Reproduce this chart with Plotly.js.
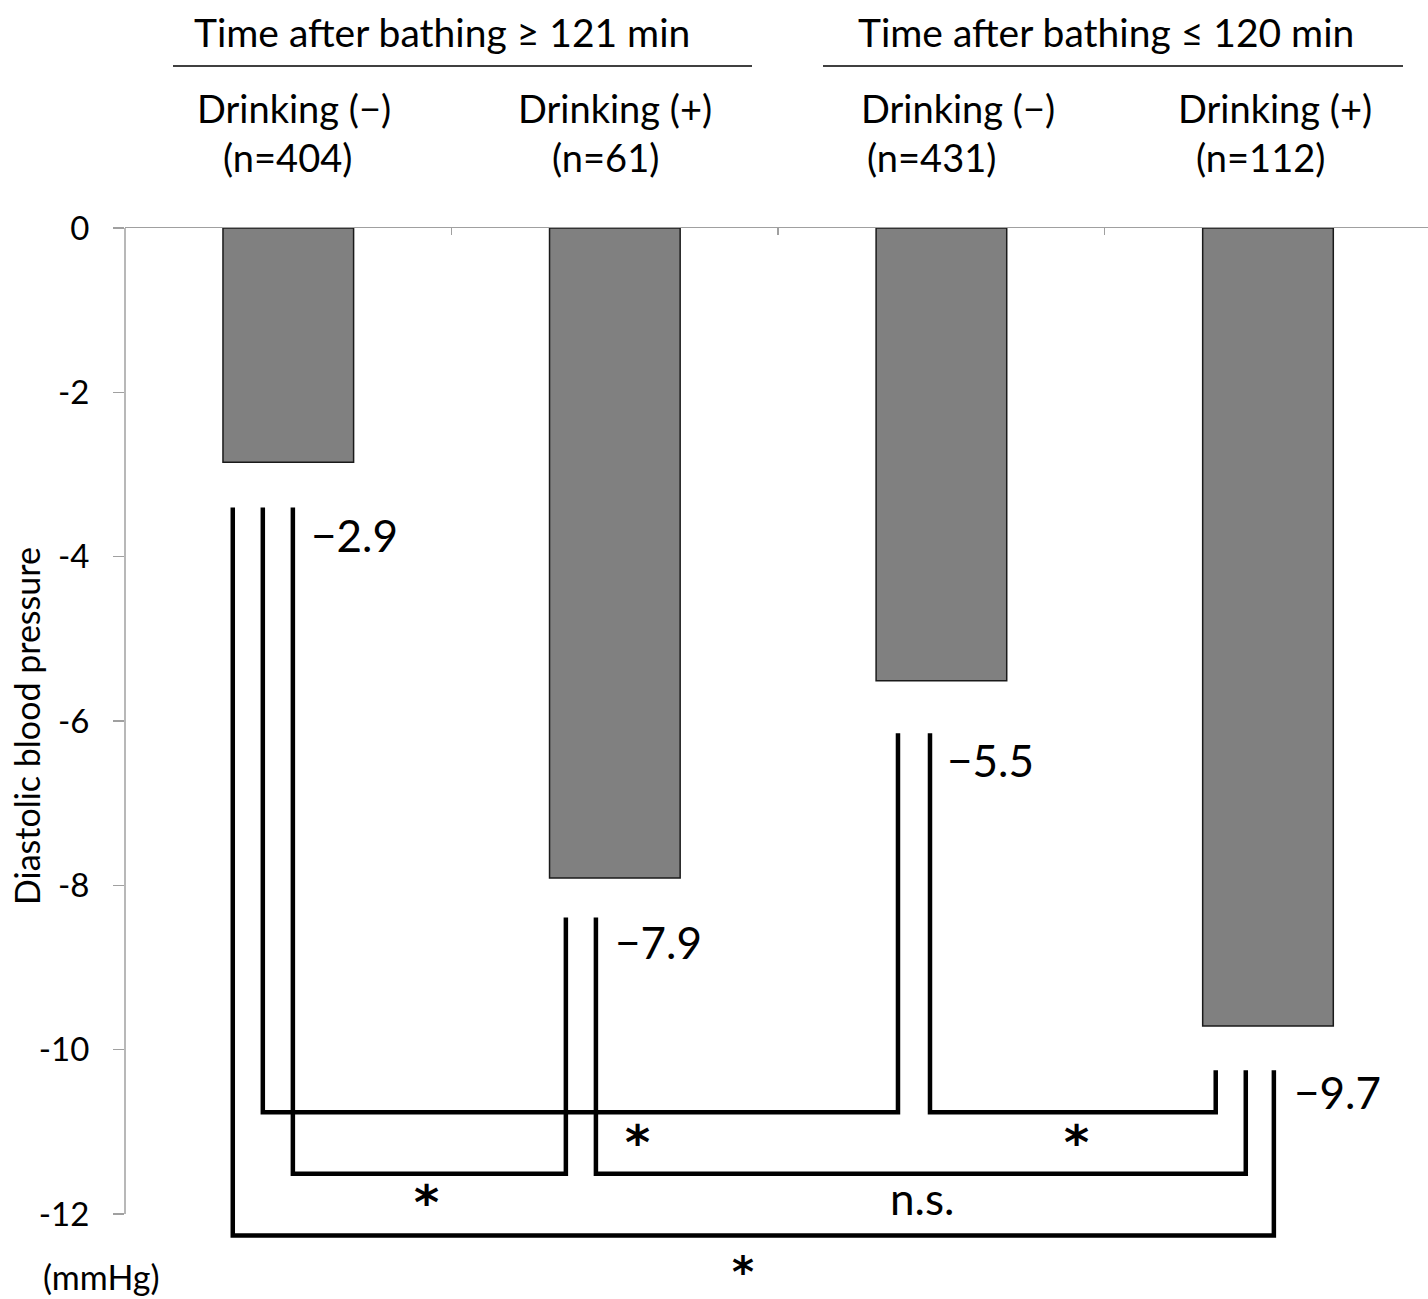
<!DOCTYPE html>
<html>
<head>
<meta charset="utf-8">
<script src="https://cdn.plot.ly/plotly-3.0.1.min.js"></script>
<style>
html,body{margin:0;padding:0;background:#fff;}
#chart{width:1428px;height:1299px;}
</style>
</head>
<body>
<div id="chart"></div>
<script>
// ---------------- data ----------------
const categories = ['≥121 min / Drinking (−)', '≥121 min / Drinking (+)', '≤120 min / Drinking (−)', '≤120 min / Drinking (+)'];
const drinkingLabels = ['Drinking (−)', 'Drinking (+)', 'Drinking (−)', 'Drinking (+)'];
const nLabels = ['(n=404)', '(n=61)', '(n=431)', '(n=112)'];
const values = [-2.85, -7.91, -5.51, -9.71];
const valueLabels = ['−2.9', '−7.9', '−5.5', '−9.7'];
const groupLabels = ['Time after bathing ≥ 121 min', 'Time after bathing ≤ 120 min'];
const yTickVals = [0, -2, -4, -6, -8, -10, -12];
const yTickText = ['0', '-2', '-4', '-6', '-8', '-10', '-12'];
const yTitle = 'Diastolic blood pressure';
const yUnit = '(mmHg)';
// comparisons: [from index, to index, significance]
const comparisons = [
  [0, 3, '*'],
  [0, 2, '*'],
  [0, 1, '*'],
  [1, 3, 'n.s.'],
  [2, 3, '*']
];

// ---------------- layout helpers ----------------
const FONT = 'Lato, "Open Sans", sans-serif';
const xIdx = categories.map((c, i) => i);
// bracket geometry (offsets from category centre, level)
const bracketGeom = [
  {dx0: -0.170, dx1: 0.018, level: -12.26, lx: 1.392, ly: -12.71, fs: 42},
  {dx0: -0.078, dx1: -0.133, level: -10.76, lx: 1.070, ly: -11.12, fs: 48},
  {dx0: 0.014, dx1: -0.150, level: -11.51, lx: 0.424, ly: -11.85, fs: 48},
  {dx0: -0.058, dx1: -0.068, level: -11.51, lx: 1.940, ly: -11.80, fs: 44},
  {dx0: -0.035, dx1: -0.160, level: -10.76, lx: 2.415, ly: -11.12, fs: 48}
];
const bracketStart = [-3.40, -8.39, -6.15, -10.25];

const shapes = [];
const annotations = [];
const LW = 4.5;
comparisons.forEach((c, k) => {
  const g = bracketGeom[k];
  const xa = xIdx[c[0]] + g.dx0, xb = xIdx[c[1]] + g.dx1;
  const path = `M ${xa} ${bracketStart[c[0]]} L ${xa} ${g.level} L ${xb} ${g.level} L ${xb} ${bracketStart[c[1]]}`;
  shapes.push({type: 'path', xref: 'x', yref: 'y', path: path, line: {color: '#000', width: LW}, layer: 'above'});
  const isStar = c[2] === '*';
  annotations.push({xref: 'x', yref: 'y', x: g.lx, y: g.ly, text: c[2], showarrow: false,
    xanchor: 'center', yanchor: 'middle', borderpad: 0,
    font: {family: isStar ? 'DejaVu Sans' : FONT, size: g.fs, color: '#000', weight: isStar ? 'bold' : 'normal'}});
});

// value labels
const valLabelPos = [[0.062, -3.74], [0.994, -8.69], [2.010, -6.47], [3.074, -10.51]];
values.forEach((v, i) => {
  annotations.push({xref: 'x', yref: 'y', x: valLabelPos[i][0], y: valLabelPos[i][1], text: valueLabels[i],
    showarrow: false, xanchor: 'left', yanchor: 'middle', font: {family: FONT, size: 44, color: '#000'}});
});

// header geometry in pixel terms -> paper
const TOP = 228, BOT = 1288, LEFT = 125, W = 1303;
const py = p => (BOT - p) / (BOT - TOP);
const px = p => (p - LEFT) / W;
const drinkX = [294, 615, 958, 1275];
const nX = [287, 605, 931, 1260];
const HF = 38;
drinkingLabels.forEach((t, i) => {
  annotations.push({xref: 'paper', yref: 'paper', x: px(drinkX[i]), y: py(108), text: t, showarrow: false,
    xanchor: 'center', yanchor: 'middle', font: {family: FONT, size: HF, color: '#000'}});
  annotations.push({xref: 'paper', yref: 'paper', x: px(nX[i]), y: py(157), text: nLabels[i], showarrow: false,
    xanchor: 'center', yanchor: 'middle', font: {family: FONT, size: HF, color: '#000'}});
});
const groupX = [442, 1106];
const groupLine = [[173, 752], [823, 1403]];
groupLabels.forEach((t, i) => {
  annotations.push({xref: 'paper', yref: 'paper', x: px(groupX[i]), y: py(32), text: t, showarrow: false,
    xanchor: 'center', yanchor: 'middle', font: {family: FONT, size: 39, color: '#000'}});
  shapes.push({type: 'line', xref: 'paper', yref: 'paper', x0: px(groupLine[i][0]), x1: px(groupLine[i][1]),
    y0: py(66), y1: py(66), line: {color: '#000', width: 1.5}});
});
// y title and unit
annotations.push({xref: 'paper', yref: 'paper', x: px(26), y: py(726), text: yTitle, textangle: -90, showarrow: false,
  xanchor: 'center', yanchor: 'middle', font: {family: FONT, size: 34, color: '#000'}});
annotations.push({xref: 'paper', yref: 'paper', x: px(42), y: py(1276), text: yUnit, showarrow: false,
  xanchor: 'left', yanchor: 'middle', borderpad: 0, font: {family: FONT, size: 34, color: '#000'}});
// y axis line (0 to -12 only)
shapes.push({type: 'line', xref: 'paper', yref: 'y', x0: 0, x1: 0, y0: 0, y1: -12, line: {color: '#a0a0a0', width: 1.5}, layer: 'above'});

const trace = {
  type: 'bar', x: xIdx, y: values, width: 0.4, text: categories, hoverinfo: 'text+y', textposition: 'none',
  marker: {color: '#808080', line: {color: '#1a1a1a', width: 1.5}}
};

const layout = {
  width: 1428, height: 1299,
  margin: {l: LEFT, r: 1428 - LEFT - W, t: TOP, b: 1299 - BOT, pad: 0},
  paper_bgcolor: '#fff', plot_bgcolor: '#fff',
  showlegend: false,
  xaxis: {range: [-0.5, 3.49], side: 'top', showline: true, linecolor: '#a0a0a0', linewidth: 1.5,
    ticks: 'inside', tickvals: [0.5, 1.5, 2.5], ticklen: 7, tickcolor: '#a0a0a0', tickwidth: 1.5,
    showticklabels: false, showgrid: false, zeroline: false, fixedrange: true},
  yaxis: {range: [-12.9, 0], showline: false, ticks: 'outside', ticklen: 11, tickcolor: '#a0a0a0', tickwidth: 1.5,
    tickvals: yTickVals, ticktext: yTickText, ticklabelstandoff: 17,
    tickfont: {family: FONT, size: 33, color: '#000'}, showgrid: false, zeroline: false, fixedrange: true},
  shapes: shapes, annotations: annotations
};
Plotly.newPlot('chart', [trace], layout, {displayModeBar: false, staticPlot: true});
</script>
</body>
</html>
